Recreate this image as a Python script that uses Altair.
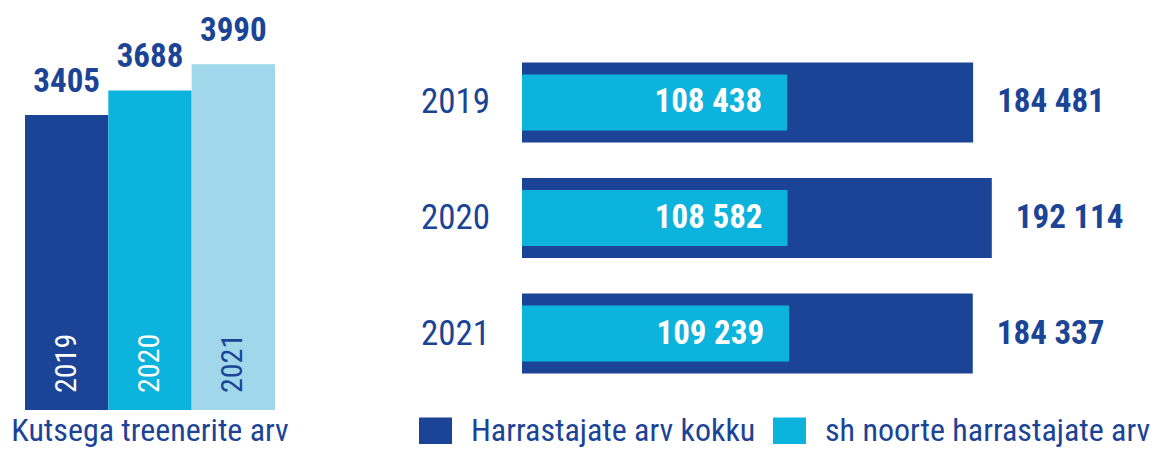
import altair as alt
import pandas as pd

years = ["2019", "2020", "2021"]
coaches = [3405, 3688, 3990]
total = [184481, 192114, 184337]
youth = [108438, 108582, 109239]
series = ["Harrastajate arv kokku", "sh noorte harrastajate arv"]
left_title = "Kutsega treenerite arv"

DARK = "#1b4496"
CYAN = "#0cb3dc"
PALE = "#a0d7ea"
F = "Roboto Condensed, Liberation Sans Narrow, DejaVu Sans Condensed, Roboto"
FB = 33   # bold value labels
FR = 35   # regular year labels


def fmt(v):
    return f"{v:,}".replace(",", " ")


df_left = pd.DataFrame({"year": years, "coaches": coaches,
                        "label": [str(c) for c in coaches]})
df_right = pd.DataFrame({"year": years, "total": total, "youth": youth,
                         "tlab": [fmt(v) for v in total],
                         "ylab": [fmt(v) for v in youth]})

# ---------------- left chart ----------------
lbase = alt.Chart(df_left).encode(
    x=alt.X("year:N", sort=years, axis=None,
            scale=alt.Scale(paddingInner=0, paddingOuter=0.204))
)
ysc = alt.Scale(domain=[0, 4640], nice=False)
lbars = lbase.mark_bar().encode(
    y=alt.Y("coaches:Q", scale=ysc, axis=None),
    color=alt.Color("year:N", scale=alt.Scale(domain=years, range=[DARK, CYAN, PALE]), legend=None),
)
lvals = lbase.mark_text(dy=-23, baseline="alphabetic", fontSize=FB, fontWeight="bold",
                        font=F, color=DARK).encode(
    y=alt.Y("coaches:Q", scale=ysc, axis=None), text="label:N")
lyears = lbase.mark_text(angle=270, align="left", baseline="middle", dx=17, fontSize=30,
                         font=F).encode(
    y=alt.datum(0),
    text="year:N",
    color=alt.Color("year:N", scale=alt.Scale(domain=years, range=["white", "white", DARK]), legend=None),
)
left = alt.layer(lbars, lvals, lyears).resolve_scale(color="independent").properties(
    width=284, height=402,
    title=alt.TitleParams(left_title, orient="bottom", anchor="middle", fontSize=32, font=F,
                          fontWeight="normal", color=DARK, offset=31, baseline="alphabetic"),
)

# ---------------- right chart ----------------
xsc = alt.Scale(domain=[0, 229000], nice=False)
rbase = alt.Chart(df_right).encode(
    y=alt.Y("year:N", sort=years, axis=None,
            scale=alt.Scale(paddingInner=0, paddingOuter=0.318))
)
csc = alt.Scale(domain=series, range=[DARK, CYAN])
leg = alt.Legend(orient="none", legendX=411, legendY=406, direction="horizontal", title=None,
                 symbolType="M-1,-0.8H1V0.8H-1Z", symbolSize=1089, symbolStrokeWidth=0,
                 symbolOpacity=1, labelFont=F, labelFontSize=32, labelColor=DARK,
                 labelOffset=19, columnPadding=17, labelLimit=800, padding=0)
tbars = rbase.transform_calculate(s=f"'{series[0]}'").mark_bar(height=80).encode(
    x=alt.X("total:Q", scale=xsc, axis=None),
    color=alt.Color("s:N", scale=csc, legend=leg),
)
ybars = rbase.transform_calculate(s=f"'{series[1]}'").mark_bar(height=56).encode(
    x=alt.X("youth:Q", scale=xsc, axis=None),
    color=alt.Color("s:N", scale=csc, legend=leg),
)
ytext = rbase.mark_text(align="right", baseline="middle", dx=-25, fontSize=FB, fontWeight="bold",
                        font=F, color="white").encode(
    x=alt.X("youth:Q", scale=xsc, axis=None), text="ylab:N")
ttext = rbase.mark_text(align="left", baseline="middle", dx=24, fontSize=FB, fontWeight="bold",
                        font=F, color=DARK).encode(
    x=alt.X("total:Q", scale=xsc, axis=None), text="tlab:N")
yrlab = rbase.mark_text(align="right", baseline="middle", fontSize=FR, font=F, color=DARK).encode(
    x=alt.value(-32), text="year:N")
right = alt.layer(tbars, ybars, ytext, ttext, yrlab).properties(width=560, height=420)

chart = alt.hconcat(left, right, spacing=230, bounds="flush").properties(padding=0).configure_view(stroke=None)

chart.save("out.html", embed_options={"renderer": "svg", "actions": False})
